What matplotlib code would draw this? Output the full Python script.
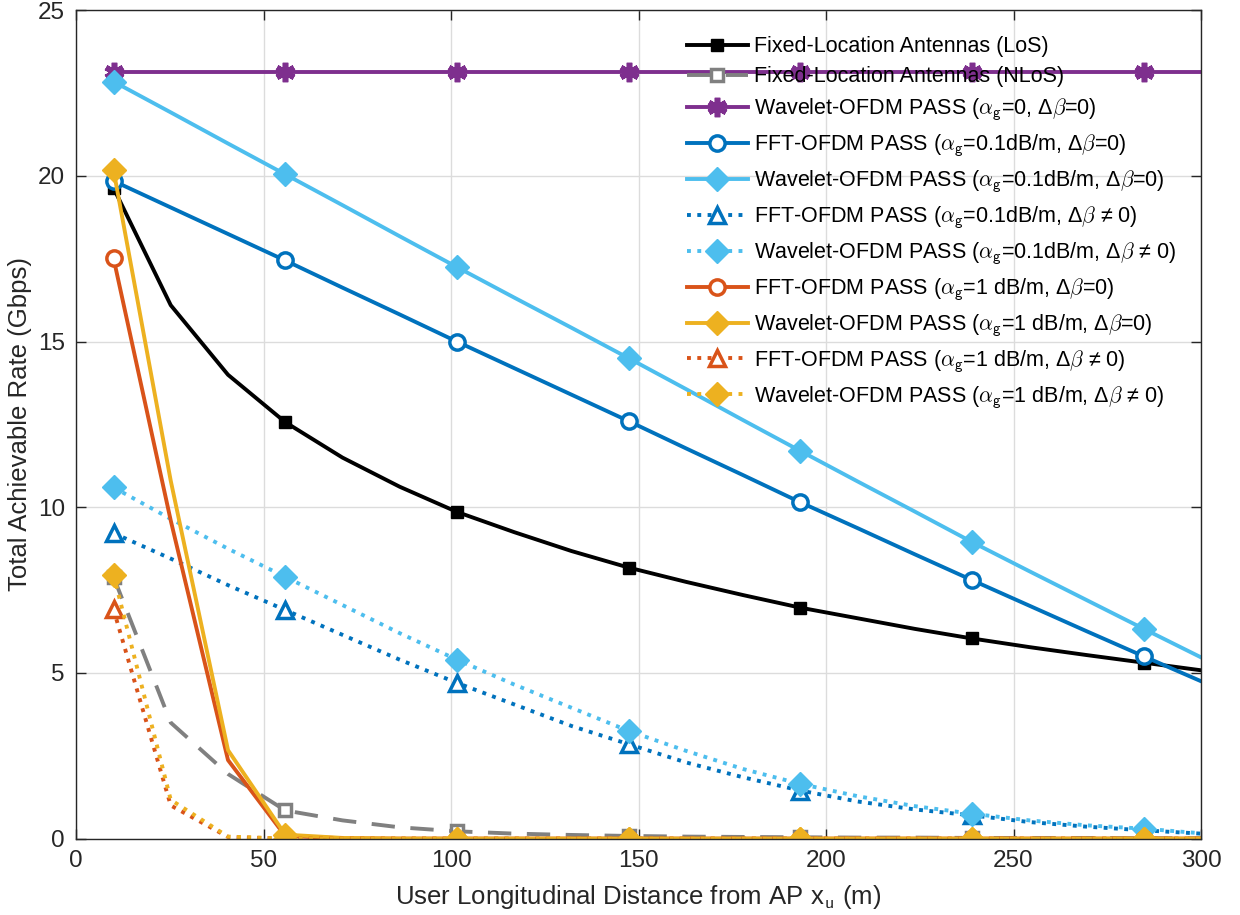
import matplotlib
matplotlib.use("Agg")
import matplotlib.pyplot as plt
import numpy as np

# ---------------------------------------------------------------------------
# Data
# ---------------------------------------------------------------------------
x_dist = [10.0, 25.26, 40.53, 55.79, 71.05, 86.32, 101.58, 116.84, 132.11, 147.37,
          162.63, 177.89, 193.16, 208.42, 223.68, 238.95, 254.21, 269.47, 284.74, 300.0]

fixed_los = [19.64, 16.10, 14.00, 12.57, 11.50, 10.62, 9.86, 9.25, 8.68, 8.18,
             7.75, 7.35, 6.97, 6.65, 6.33, 6.04, 5.78, 5.54, 5.31, 5.08]
fixed_nlos = [7.90, 3.50, 1.95, 0.85, 0.55, 0.34, 0.22, 0.15, 0.11, 0.08,
              0.06, 0.05, 0.04, 0.03, 0.03, 0.02, 0.02, 0.02, 0.01, 0.01]
wav_ideal = [23.15] * 20
fft_01 = [19.85, 19.05, 18.25, 17.45, 16.63, 15.82, 15.00, 14.20, 13.40, 12.60,
          11.78, 10.97, 10.15, 9.37, 8.58, 7.80, 7.03, 6.26, 5.50, 4.75]
wav_01 = [22.85, 21.92, 20.98, 20.05, 19.12, 18.18, 17.25, 16.33, 15.42, 14.50,
          13.57, 12.63, 11.70, 10.78, 9.87, 8.95, 8.07, 7.20, 6.33, 5.47]
fft_01_db = [9.22, 8.45, 7.65, 6.90, 6.15, 5.40, 4.70, 4.05, 3.40, 2.85,
             2.30, 1.85, 1.45, 1.12, 0.88, 0.70, 0.50, 0.36, 0.25, 0.15]
wav_01_db = [10.60, 9.65, 8.75, 7.90, 7.05, 6.20, 5.40, 4.65, 3.95, 3.25,
             2.65, 2.10, 1.65, 1.28, 0.98, 0.75, 0.55, 0.40, 0.30, 0.16]
fft_1 = [17.52, 9.60, 2.37, 0.08, 0.01, 0, 0, 0, 0, 0,
         0, 0, 0, 0, 0, 0, 0, 0, 0, 0]
wav_1 = [20.18, 10.80, 2.67, 0.12, 0.02, 0, 0, 0, 0, 0,
         0, 0, 0, 0, 0, 0, 0, 0, 0, 0]
fft_1_db = [6.92, 1.00, 0.05, 0, 0, 0, 0, 0, 0, 0,
            0, 0, 0, 0, 0, 0, 0, 0, 0, 0]
wav_1_db = [7.96, 1.17, 0.06, 0, 0, 0, 0, 0, 0, 0,
            0, 0, 0, 0, 0, 0, 0, 0, 0, 0]

labels = [
    "Fixed-Location Antennas (LoS)",
    "Fixed-Location Antennas (NLoS)",
    r"Wavelet-OFDM PASS ($\alpha_{\mathsf{g}}$=0, Δ$\beta$=0)",
    r"FFT-OFDM PASS ($\alpha_{\mathsf{g}}$=0.1dB/m, Δ$\beta$=0)",
    r"Wavelet-OFDM PASS ($\alpha_{\mathsf{g}}$=0.1dB/m, Δ$\beta$=0)",
    r"FFT-OFDM PASS ($\alpha_{\mathsf{g}}$=0.1dB/m, Δ$\beta$ ≠ 0)",
    r"Wavelet-OFDM PASS ($\alpha_{\mathsf{g}}$=0.1dB/m, Δ$\beta$ ≠ 0)",
    r"FFT-OFDM PASS ($\alpha_{\mathsf{g}}$=1 dB/m, Δ$\beta$=0)",
    r"Wavelet-OFDM PASS ($\alpha_{\mathsf{g}}$=1 dB/m, Δ$\beta$=0)",
    r"FFT-OFDM PASS ($\alpha_{\mathsf{g}}$=1 dB/m, Δ$\beta$ ≠ 0)",
    r"Wavelet-OFDM PASS ($\alpha_{\mathsf{g}}$=1 dB/m, Δ$\beta$ ≠ 0)",
]

# MATLAB default colours
BLUE = "#0072BD"
ORANGE = "#D95319"
YELLOW = "#EDB120"
PURPLE = "#7E2F8E"
LBLUE = "#4DBEEE"
GRAY = "#808080"

plt.rcParams["font.family"] = ["Liberation Sans", "DejaVu Sans"]
plt.rcParams["mathtext.fontset"] = "cm"

fig = plt.figure(figsize=(12.4, 9.15), dpi=100)
ax = fig.add_axes([0.0613, 0.0835, 0.9073, 0.9052])

LW = 2.8
ME = 3

ax.plot(x_dist, fixed_los, "-", color="black", lw=LW, marker="s", ms=9,
        markevery=ME, label=labels[0])
ax.plot(x_dist, fixed_nlos, color=GRAY, lw=LW, ls=(0, (6, 4)), marker="s", ms=9,
        mfc="white", mec=GRAY, mew=2.5, markevery=ME, label=labels[1])
ax.plot(x_dist, wav_ideal, "-", color=PURPLE, lw=LW, marker=(6, 2, 0), ms=14,
        mew=4, markevery=ME, label=labels[2])
ax.plot(x_dist, fft_01, "-", color=BLUE, lw=LW, marker="o", ms=11, mfc="white",
        mew=2.5, markevery=ME, label=labels[3])
ax.plot(x_dist, wav_01, "-", color=LBLUE, lw=LW, marker="D", ms=12,
        markevery=ME, label=labels[4])
ax.plot(x_dist, fft_01_db, ":", color=BLUE, lw=LW, marker="^", ms=12, mfc="white",
        mew=2.5, markevery=ME, label=labels[5])
ax.plot(x_dist, wav_01_db, ":", color=LBLUE, lw=LW, marker="D", ms=12,
        markevery=ME, label=labels[6])
ax.plot(x_dist, fft_1, "-", color=ORANGE, lw=LW, marker="o", ms=11, mfc="white",
        mew=2.5, markevery=ME, label=labels[7])
ax.plot(x_dist, wav_1, "-", color=YELLOW, lw=LW, marker="D", ms=12,
        markevery=ME, label=labels[8])
ax.plot(x_dist, fft_1_db, ":", color=ORANGE, lw=LW, marker="^", ms=12, mfc="white",
        mew=2.5, markevery=ME, label=labels[9])
ax.plot(x_dist, wav_1_db, ":", color=YELLOW, lw=LW, marker="D", ms=12,
        markevery=ME, label=labels[10])

ax.set_xlim(0, 300)
ax.set_ylim(0, 25)
ax.set_xticks(np.arange(0, 301, 50))
ax.set_yticks(np.arange(0, 26, 5))
ax.tick_params(direction="in", length=7, width=1, labelsize=17.5, colors="#262626",
               top=True, right=True, pad=8)
for sp in ax.spines.values():
    sp.set_color("#262626")
    sp.set_linewidth(1)
ax.grid(True, color="#dcdcdc", lw=1)
ax.set_axisbelow(True)

ax.set_xlabel(r"User Longitudinal Distance from AP x$_{\mathsf{u}}$ (m)",
              fontsize=18.5, color="#262626", labelpad=8)
ax.set_ylabel("Total Achievable Rate (Gbps)", fontsize=18.5, color="#262626",
              labelpad=4)

ax.legend(loc="upper left", bbox_to_anchor=(0.535, 0.979), frameon=False,
          fontsize=15.5, handlelength=2.85, handletextpad=0.3, labelspacing=0.42,
          borderaxespad=0)

fig.savefig("out.png", dpi=100)
plt.close(fig)
